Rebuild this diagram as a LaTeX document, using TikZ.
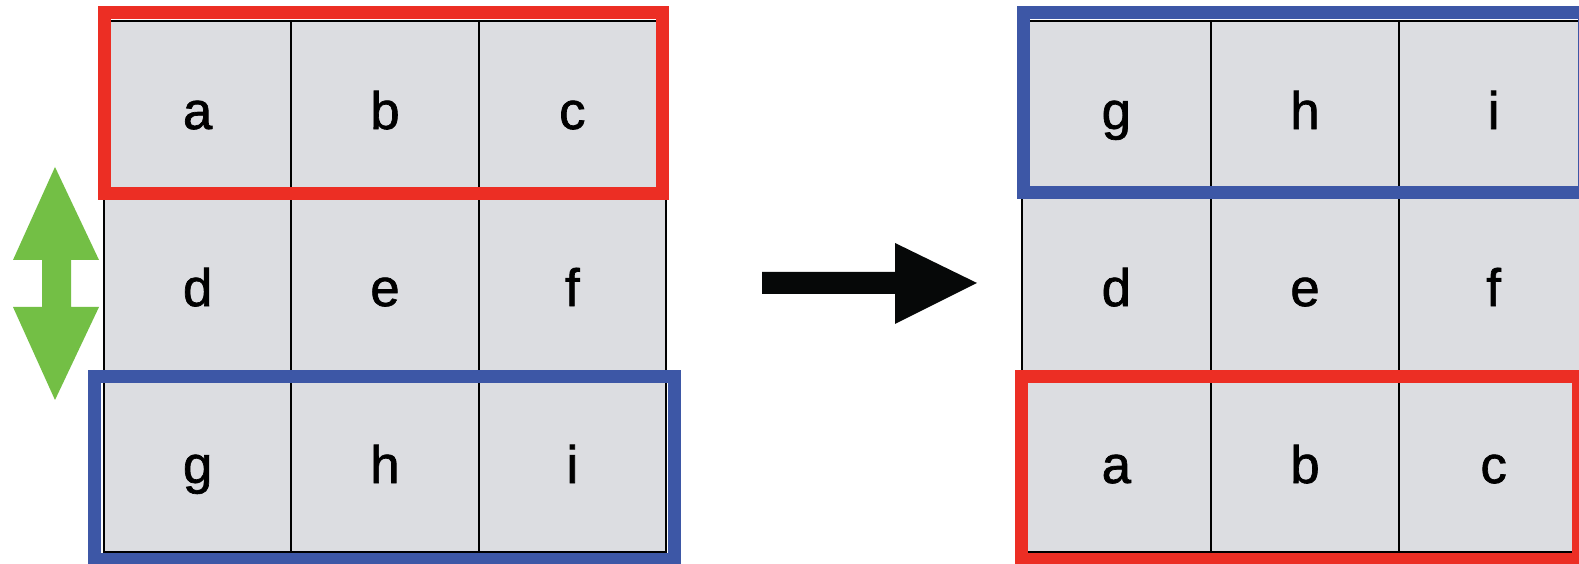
\documentclass[tikz,border=0pt]{standalone}
\usepackage{fontspec}
\setmainfont{Liberation Sans}
\newfontfamily\cellfont[FakeBold=1.3]{Liberation Sans}
\usetikzlibrary{calc}

\definecolor{cellgray}{RGB}{220,221,225}
\definecolor{rowred}{RGB}{236,46,36}
\definecolor{rowblue}{RGB}{61,87,166}
\definecolor{swapgreen}{RGB}{115,191,69}
\definecolor{arrowblack}{RGB}{6,8,8}

\tikzset{
  lcell/.style={draw=black, line width=0.02cm, fill=cellgray, inner sep=0pt,
    minimum width=1.873cm, minimum height=1.77cm,
    text height=0.39cm, text depth=0cm, font=\cellfont\fontsize{15}{18}\selectfont},
  rcell/.style={lcell, minimum width=1.887cm},
  rowframe/.style={line width=0.13cm, line join=miter}
}

\begin{document}
\begin{tikzpicture}[x=0.01cm, y=0.01cm]
\clip (0,0) rectangle (1579,564);
\fill[white] (0,0) rectangle (1579,564);

% ---- left grid (before the swap)
\node[lcell] (a) at (197.65,454.5) {a};
\node[lcell] (b) at (385,454.5) {b};
\node[lcell] (c) at (572.35,454.5) {c};
\node[lcell] (d) at (197.65,277.5) {d};
\node[lcell] (e) at (385,277.5) {e};
\node[lcell] (f) at (572.35,277.5) {f};
\node[lcell] (g) at (197.65,100.5) {g};
\node[lcell] (h) at (385,100.5) {h};
\node[lcell] (i) at (572.35,100.5) {i};

% ---- right grid (after the swap)
\node[rcell] (g2) at (1116.35,454.5) {g};
\node[rcell] (h2) at (1305,454.5) {h};
\node[rcell] (i2) at (1493.65,454.5) {i};
\node[rcell] (d2) at (1116.35,277.5) {d};
\node[rcell] (e2) at (1305,277.5) {e};
\node[rcell] (f2) at (1493.65,277.5) {f};
\node[rcell] (a2) at (1116.35,100.5) {a};
\node[rcell] (b2) at (1305,100.5) {b};
\node[rcell] (c2) at (1493.65,100.5) {c};

% ---- row frames
\draw[rowframe, rowred]  ($(a.north west)+(1.5,7)$) rectangle ($(c.south east)+(-5,5.5)$);
\draw[rowframe, rowblue] ($(g.north west)+(-8,-2.5)$) rectangle ($(i.south east)+(7.5,-6)$);
\draw[rowframe, rowblue] ($(g2.north west)+(3,7)$) rectangle ($(i2.south east)+(-4.5,6.5)$);
\draw[rowframe, rowred]  ($(a2.north west)+(0.5,-2.5)$) rectangle ($(c2.south east)+(-10.5,-6)$);

% ---- green double-headed arrow (row swap)
\coordinate (swaptop) at (55,397);
\coordinate (swapbot) at (55,164);
\fill[swapgreen] (swaptop) -- (99,304) -- (71,304) -- (71,257) -- (99,257)
  -- (swapbot) -- (13,257) -- (42,257) -- (42,304) -- (13,304) -- cycle;

% ---- black block arrow between the grids
\coordinate (arrtail) at (762,281);
\coordinate (arrtip) at (977,281);
\fill[arrowblack] ($(arrtail)+(0,11)$) -- (895,292) -- (895,321) -- (arrtip)
  -- (895,240) -- (895,270) -- ($(arrtail)+(0,-11)$) -- cycle;
\end{tikzpicture}
\end{document}
